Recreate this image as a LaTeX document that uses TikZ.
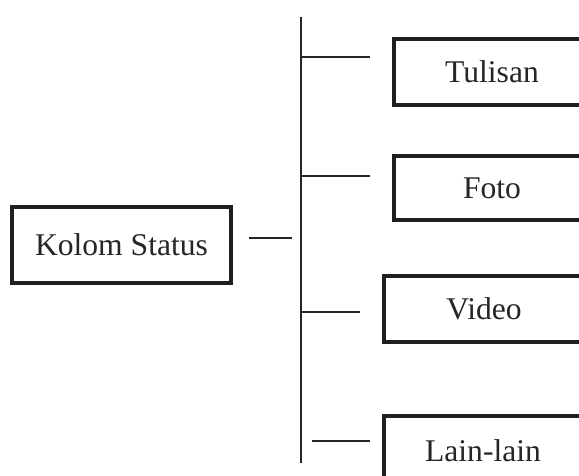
\documentclass[tikz,border=0pt]{standalone}
\usepackage{fontspec}
\setmainfont{Liberation Serif}
\usetikzlibrary{calc}
\begin{document}
\begin{tikzpicture}[x=1pt,y=-1pt,
  box/.style={draw=black!88, line width=4pt, inner sep=0pt, text=black!85,
    font=\fontsize{31.6}{38}\selectfont},
  conn/.style={draw=black!85, line width=1.5pt}]
\useasboundingbox (0,0) rectangle (579,475);
\clip (0,0) rectangle (579,475);
\fill[white] (0,0) rectangle (579,475);
% boxes
\node[box, minimum width=219pt, minimum height=76pt] (ks) at (121.5,245) {Kolom Status};
\node[box, anchor=north west, minimum width=196pt, minimum height=66pt] (tul) at (392,37) {Tulisan};
\node[box, anchor=north west, minimum width=196pt, minimum height=64pt] (foto) at (392,154) {Foto};
\node[box, anchor=north west, minimum width=200pt, minimum height=66pt] (vid) at (382,274) {Video};
\node[box, anchor=north west, minimum width=198pt, minimum height=70pt] (lain) at (382,414) {Lain-lain};
% trunk
\coordinate (vtop) at (301,17);
\coordinate (vbot) at (301,463);
\draw[conn] (vtop) -- (vbot);
% connectors
\coordinate (ksa) at ($(ks.east)+(16,-7)$);
\draw[conn] (ksa) -- ++(43,0);
\coordinate (tulc) at ($(tul.west)+(-22,-15)$);
\draw[conn] (vtop |- tulc) -- (tulc);
\coordinate (fotoc) at ($(foto.west)+(-22,-12)$);
\draw[conn] (vtop |- fotoc) -- (fotoc);
\coordinate (vidc) at ($(vid.west)+(-22,3)$);
\draw[conn] (vtop |- vidc) -- (vidc);
\coordinate (lainc) at ($(lain.west)+(-12,-10)$);
\draw[conn] ($(lainc)+(-58,0)$) -- (lainc);
\end{tikzpicture}
\end{document}
